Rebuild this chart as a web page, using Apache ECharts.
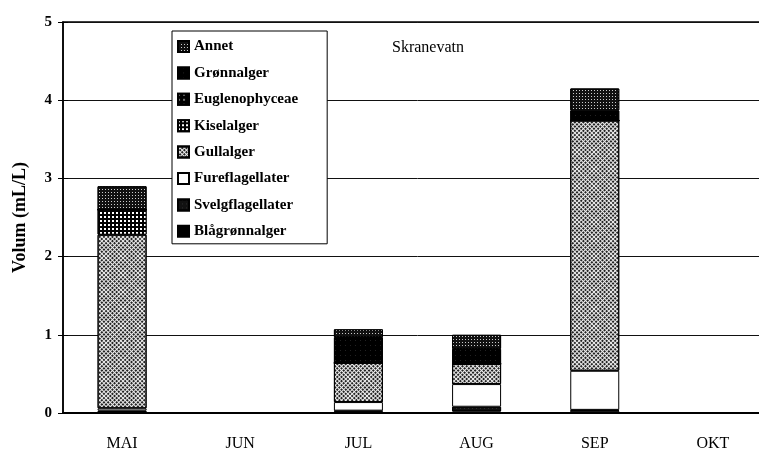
<!DOCTYPE html>
<html>
<head>
<meta charset="utf-8">
<script src="https://cdn.jsdelivr.net/npm/echarts@6/dist/echarts.min.js"></script>
<style>
    * { margin: 0; padding: 0; }
    html, body { background: #fff; overflow: hidden; width: 759px; height: 450px; }
</style>
</head>
<body>
<!-- the plot runs past the right edge in the original, so the chart is a bit wider than the window -->
<div id="chart" style="width: 772px; height: 450px;"></div>
<script>
    // måneder
    var categories = ['MAI', 'JUN', 'JUL', 'AUG', 'SEP', 'OKT'];
    // volum (mL/L) per gruppe, stablet nedenfra og opp
    var blagronnalger = [0.01, null, 0.02, 0.02, 0.03, null];
    var svelgflagellater = [0.02, null, 0.01, 0.06, 0.01, null];
    var fureflagellater = [0.03, null, 0.11, 0.29, 0.50, null];
    var gullalger = [2.22, null, 0.50, 0.26, 3.20, null];
    var kiselalger = [0.32, null, 0, 0, 0, null];
    var euglenophyceae = [0, null, 0, 0, 0, null];
    var gronnalger = [0, null, 0.33, 0.19, 0.13, null];
    var annet = [0.30, null, 0.10, 0.18, 0.28, null];
    var yTicks = [0, 1, 2, 3, 4, 5];

    var serif = 'Liberation Serif';

    function bar(name, data, color, decal) {
        var style = { color: color, borderColor: '#000', borderWidth: 1 };
        if (decal) style.decal = decal;
        return {
            name: name,
            type: 'bar',
            stack: 'total',
            barWidth: 49,
            xAxisIndex: 0,
            yAxisIndex: 0,
            data: data,
            itemStyle: style,
            emphasis: { disabled: true }
        };
    }

    var option = {
        animation: false,
        backgroundColor: '#fff',
        title: {
            text: 'Skranevatn',
            left: 387,
            top: 35,
            textStyle: { fontFamily: serif, fontSize: 16, fontWeight: 'normal', color: '#000' }
        },
        legend: {
            orient: 'vertical',
            left: 172,
            top: 31,
            padding: [8, 29, 5, 5],
            icon: 'rect',
            itemWidth: 11,
            itemHeight: 11,
            itemGap: 11.4,
            itemTextGap: 5,
            backgroundColor: '#fff',
            borderColor: '#000',
            borderWidth: 1,
            borderRadius: 0,
            textStyle: { fontFamily: serif, fontSize: 15, fontWeight: 'bold', color: '#000', lineHeight: 14 },
            data: ['Annet', 'Grønnalger', 'Euglenophyceae', 'Kiselalger', 'Gullalger',
                'Fureflagellater', 'Svelgflagellater', 'Blågrønnalger']
        },
        grid: {
            left: 63,
            top: 22,
            right: 0,
            bottom: 37,
            outerBoundsMode: 'none',
            show: true,
            borderColor: '#000',
            borderWidth: 1.5
        },
        xAxis: [{
            type: 'category',
            data: categories,
            axisLine: { lineStyle: { color: '#000', width: 2 } },
            axisTick: { length: 6, lineStyle: { color: '#000' } },
            axisLabel: { margin: 23, fontFamily: serif, fontSize: 16, color: '#000' },
            splitLine: { show: false }
        }, {
            type: 'category',
            data: categories,
            position: 'bottom',
            axisLine: { show: false },
            axisTick: { inside: true, length: 5, lineStyle: { color: '#000' } },
            axisLabel: { show: false }
        }],
        yAxis: [{
            type: 'value',
            min: yTicks[0],
            max: yTicks[yTicks.length - 1],
            interval: 1,
            name: 'Volum (mL/L)',
            nameLocation: 'middle',
            nameRotate: 90,
            nameGap: 34,
            nameTextStyle: { fontFamily: serif, fontSize: 18, fontWeight: 'bold', color: '#000' },
            axisLine: { show: true, lineStyle: { color: '#000', width: 1.5 } },
            axisTick: { show: true, length: 5, lineStyle: { color: '#000' } },
            axisLabel: { margin: 11, fontFamily: serif, fontSize: 15, fontWeight: 'bold', color: '#000' },
            splitLine: { show: true, lineStyle: { color: '#111', width: 1, type: 'solid' } }
        }, {
            type: 'value',
            min: yTicks[0],
            max: yTicks[yTicks.length - 1],
            interval: 1,
            position: 'left',
            axisLine: { show: false },
            axisTick: { show: true, inside: true, length: 5, lineStyle: { color: '#000' } },
            axisLabel: { show: false },
            splitLine: { show: false }
        }],
        series: [
            bar('Blågrønnalger', blagronnalger, '#000'),
            bar('Svelgflagellater', svelgflagellater, '#111',
                { symbol: 'rect', color: '#777', symbolSize: 0.6, dashArrayX: [1, 3], dashArrayY: [1, 3] }),
            bar('Fureflagellater', fureflagellater, '#fff'),
            bar('Gullalger', gullalger, '#eee',
                { symbol: 'rect', color: '#222', symbolSize: 1, dashArrayX: [2, 0.83], dashArrayY: [2, 0.83], rotation: Math.PI / 4 }),
            bar('Kiselalger', kiselalger, '#000',
                { symbol: 'rect', color: '#fff', symbolSize: 1, dashArrayX: [2, 1.5], dashArrayY: [2, 1.5] }),
            bar('Euglenophyceae', euglenophyceae, '#000',
                { symbol: 'circle', color: '#fff', symbolSize: 0.8, dashArrayX: [2, 3], dashArrayY: [2, 3] }),
            bar('Grønnalger', gronnalger, '#000',
                { symbol: 'rect', color: '#888', symbolSize: 0.5, dashArrayX: [1, 4], dashArrayY: [1, 4] }),
            bar('Annet', annet, '#111',
                { symbol: 'rect', color: '#ccc', symbolSize: 1, dashArrayX: [1, 1.5], dashArrayY: [1, 1.5] })
        ]
    };

    var myChart = echarts.init(document.getElementById('chart'));
    myChart.setOption(option);
</script>
</body>
</html>
